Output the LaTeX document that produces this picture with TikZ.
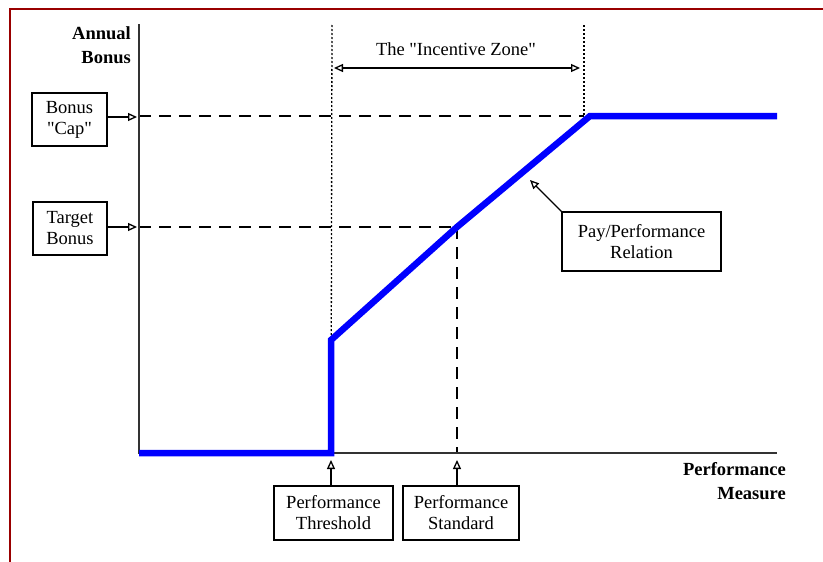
\documentclass[tikz,border=0pt]{standalone}
\usepackage{fontspec}
\setmainfont[Ligatures=TeXOff]{Liberation Serif}
\usetikzlibrary{arrows.meta}
\begin{document}
\begin{tikzpicture}[x=1pt,y=-1pt,
  lbl/.style={draw=black,line width=1.3pt,align=center,inner sep=0pt,font=\fontsize{18.5}{21}\selectfont},
  ax/.style={draw=black!80,line width=1.8pt},
  ptr/.style={-{Triangle[open,length=9pt,width=8pt,line width=1.3pt]},line width=1.3pt},
  dptr/.style={{Triangle[open,length=9pt,width=8pt,line width=1.3pt]}-{Triangle[open,length=9pt,width=8pt,line width=1.3pt]},line width=1.3pt},
  dsh/.style={line width=1.3pt,dash pattern=on 12pt off 8pt},
  dtd/.style={line width=1.3pt,dash pattern=on 2pt off 2pt},
  pay/.style={blue,line width=6.5pt,line join=miter},
  ttl/.style={font=\bfseries\fontsize{18.5}{24}\selectfont,align=right,inner sep=0pt},
  txt/.style={font=\fontsize{18.5}{21}\selectfont,inner sep=0pt}]
\useasboundingbox (0,0) rectangle (823,562);
\fill[white] (0,0) rectangle (823,562);
\draw[red!60!black, line width=2pt] (10,562) -- (10,9) -- (823,9);

% coordinates
\coordinate (O) at (139,453);
\coordinate (Ytop) at (139,24);
\coordinate (Xend) at (777,453);
\coordinate (T) at (331,453);
\coordinate (Tj) at (331,340);
\coordinate (S) at (457,453);
\coordinate (Sp) at (457,227);
\coordinate (Cp) at (590,116);
\coordinate (Cend) at (777,116);
\coordinate (Ty) at (139,227);
\coordinate (Cy) at (139,116);
\coordinate (Ttop) at (332,25);
\coordinate (Ztop) at (584,25);
\coordinate (Zc) at (584,116);
\coordinate (ZL) at (334,68);
\coordinate (ZR) at (580,68);
\coordinate (capTip) at (137,117);
\coordinate (tgtTip) at (137,227);
\coordinate (thrTip) at (331,460);
\coordinate (stdTip) at (457,460);
\coordinate (payTip) at (530,180);

% guide lines
\draw[dtd] (Ttop) -- (T);
\draw[dtd] (Ztop) -- (Zc);
\draw[dsh] (Cy) -- (Zc);
\draw[dsh] (Ty) -- (Sp);
\draw[dsh] (Sp) -- (S);

% axes
\draw[ax] (Ytop) -- (O) -- (Xend);

% pay line
\draw[pay] (O) -- (T) -- (Tj) -- (Sp) -- (Cp) -- (Cend);

% labels
\node[ttl,anchor=east] (yl) at (131,45) {Annual\\Bonus};
\node[ttl,anchor=east] (xl) at (786,481) {Performance\\Measure};
\node[txt] (zone) at (456,49) {The "Incentive Zone"};
\draw[dptr] (ZL) -- (ZR);

\node[lbl,minimum width=75pt,minimum height=53pt] (cap) at (69.5,119.5) {Bonus\\"Cap"};
\node[lbl,minimum width=74pt,minimum height=53pt] (tgt) at (70,228.5) {Target\\Bonus};
\node[lbl,minimum width=159pt,minimum height=59pt] (rel) at (641.5,241.5) {Pay/Performance\\Relation};
\node[lbl,minimum width=119pt,minimum height=54pt] (thr) at (333.5,513) {Performance\\Threshold};
\node[lbl,minimum width=116pt,minimum height=54pt] (std) at (461,513) {Performance\\Standard};

\draw[ptr] (cap.east |- capTip) -- (capTip);
\draw[ptr] (tgt.east |- tgtTip) -- (tgtTip);
\draw[ptr] (thrTip |- thr.north) -- (thrTip);
\draw[ptr] (stdTip |- std.north) -- (stdTip);
\draw[ptr] (rel.north west) -- (payTip);
\end{tikzpicture}
\end{document}
